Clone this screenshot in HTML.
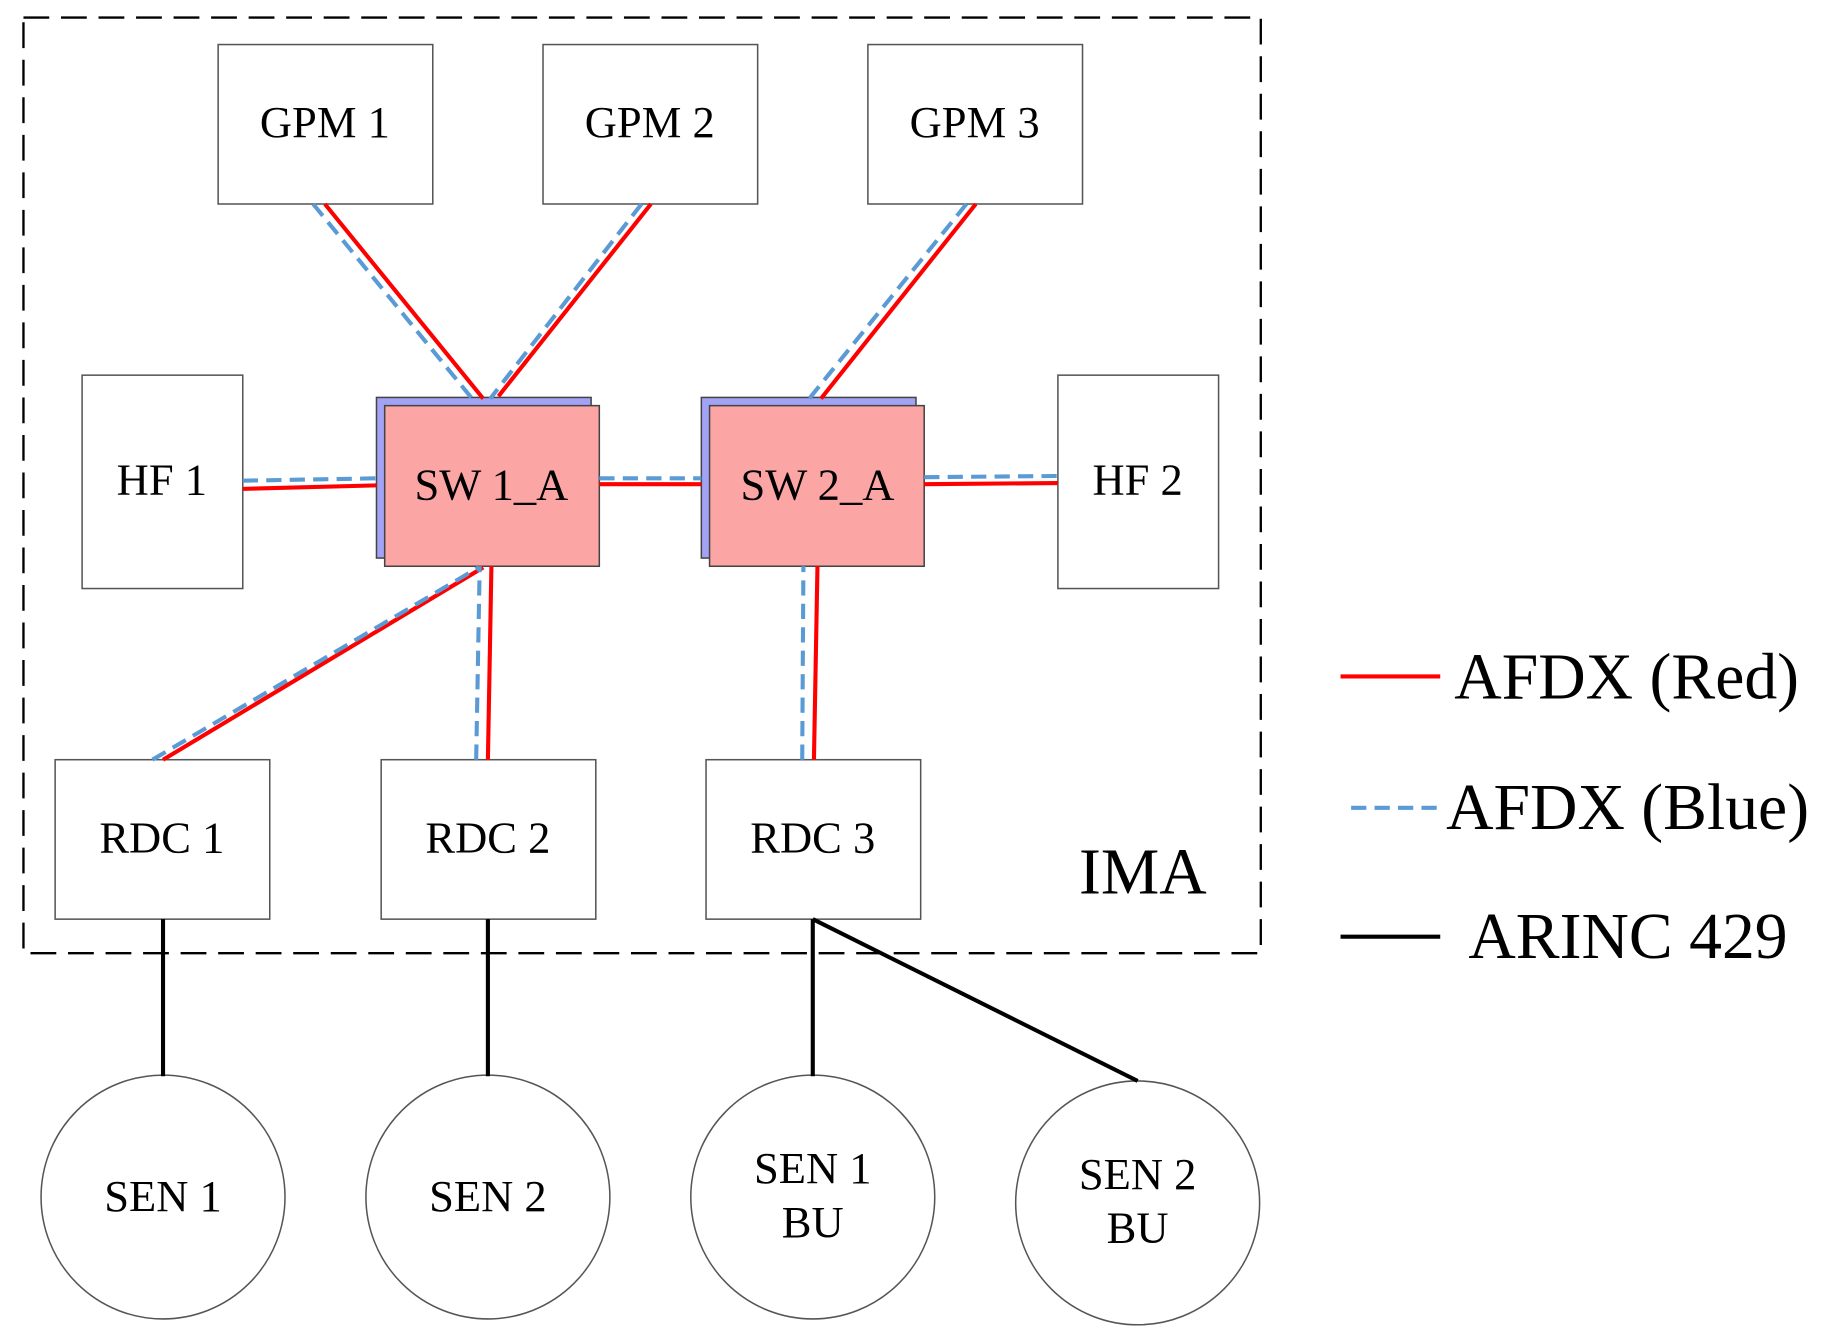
<!DOCTYPE html>
<html><head><meta charset="utf-8"><style>
html,body{margin:0;padding:0;background:#fff;}
svg{display:block;}
text{font-family:"Liberation Serif",serif;fill:#000;}
</style></head><body>
<svg width="1839" height="1333" viewBox="0 0 1568 1137" preserveAspectRatio="none" xmlns="http://www.w3.org/2000/svg">
<rect x="20" y="15" width="1055" height="798" fill="none" stroke="#000" stroke-width="2" stroke-dasharray="22 10"/>
<g fill="#fff" stroke="#555" stroke-width="1.3">
<rect x="186" y="38" width="183" height="136"/>
<rect x="463" y="38" width="183" height="136"/>
<rect x="740" y="38" width="183" height="136"/>
<rect x="70" y="320" width="137" height="182"/>
<rect x="902" y="320" width="137" height="182"/>
<rect x="47" y="648" width="183" height="136"/>
<rect x="325" y="648" width="183" height="136"/>
<rect x="602" y="648" width="183" height="136"/>
<circle cx="139" cy="1021" r="104"/>
<circle cx="416" cy="1021" r="104"/>
<circle cx="693" cy="1021" r="104"/>
<circle cx="970" cy="1026" r="104"/>
</g>
<g stroke="#444" stroke-width="1.3">
<rect x="321" y="339" width="183" height="137" fill="#a3a3f5"/>
<rect x="328" y="346" width="183" height="137" fill="#fca5a5"/>
<rect x="598" y="339" width="183" height="137" fill="#a3a3f5"/>
<rect x="605" y="346" width="183" height="137" fill="#fca5a5"/>
</g>
<g stroke="#ff0000" stroke-width="3.5" fill="none">
<line x1="277" y1="174" x2="412" y2="340"/>
<line x1="555" y1="174" x2="425" y2="338"/>
<line x1="832" y1="174" x2="700" y2="340"/>
<line x1="207" y1="417" x2="321" y2="414"/>
<line x1="511" y1="413" x2="598" y2="413"/>
<line x1="788" y1="413" x2="902" y2="412"/>
<line x1="139" y1="648" x2="412" y2="484"/>
<line x1="416" y1="648" x2="419" y2="483"/>
<line x1="694" y1="648" x2="697" y2="483"/>
<line x1="1143" y1="577" x2="1228" y2="577"/>
</g>
<g stroke="#5b9bd5" stroke-width="3.5" fill="none" stroke-dasharray="13 7">
<line x1="267" y1="174" x2="405" y2="343"/>
<line x1="547" y1="174" x2="418" y2="340"/>
<line x1="824" y1="174" x2="690" y2="340"/>
<line x1="207" y1="410" x2="321" y2="408"/>
<line x1="511" y1="408" x2="598" y2="408"/>
<line x1="788" y1="407" x2="902" y2="406"/>
<line x1="130" y1="648" x2="408" y2="484"/>
<line x1="406" y1="648" x2="409" y2="483"/>
<line x1="684" y1="648" x2="685" y2="483"/>
<line x1="1152" y1="689" x2="1228" y2="689"/>
</g>
<g stroke="#000" stroke-width="3.5" fill="none">
<line x1="139" y1="784" x2="139" y2="918"/>
<line x1="416" y1="784" x2="416" y2="918"/>
<line x1="693" y1="784" x2="693" y2="918"/>
<line x1="693" y1="784" x2="970" y2="922"/>
<line x1="1143" y1="799" x2="1228" y2="799"/>
</g>
<g font-size="38" text-anchor="middle">
<text x="277" y="117">GPM 1</text>
<text x="554" y="117">GPM 2</text>
<text x="831" y="117">GPM 3</text>
<text x="138" y="422">HF 1</text>
<text x="970" y="422">HF 2</text>
<text x="419" y="426">SW 1_A</text>
<text x="697" y="426">SW 2_A</text>
<text x="138" y="727">RDC 1</text>
<text x="416" y="727">RDC 2</text>
<text x="693" y="727">RDC 3</text>
<text x="139" y="1033">SEN 1</text>
<text x="416" y="1033">SEN 2</text>
<text x="693" y="1009">SEN 1</text>
<text x="693" y="1055">BU</text>
<text x="970" y="1014">SEN 2</text>
<text x="970" y="1060">BU</text>
</g>
<g font-size="56">
<text x="920" y="762">IMA</text>
<text x="1240" y="596">AFDX (Red)</text>
<text x="1233" y="707">AFDX (Blue)</text>
<text x="1252" y="817">ARINC 429</text>
</g>
</svg>
</body></html>
